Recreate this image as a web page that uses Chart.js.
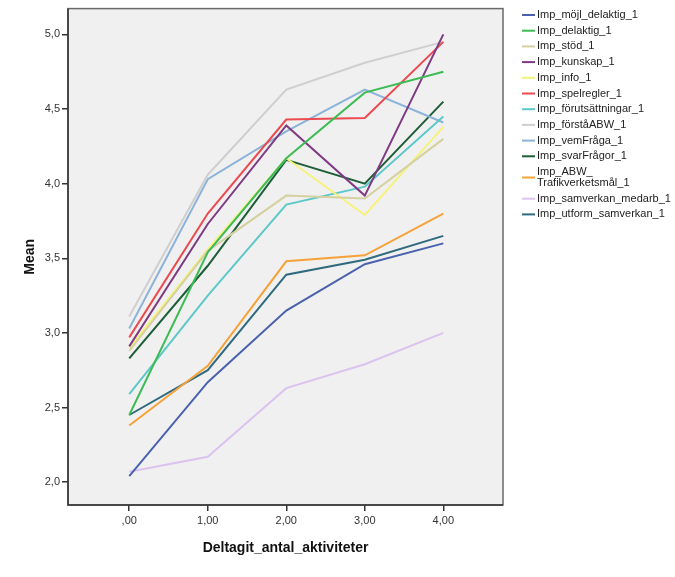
<!DOCTYPE html>
<html>
<head>
<meta charset="utf-8">
<script src="https://cdn.jsdelivr.net/npm/chart.js@4/dist/chart.umd.min.js"></script>
<style>
  body { margin: 0; background: #fff; }
  canvas { display: block; }
</style>
</head>
<body>
<canvas id="grafico" width="675" height="577"></canvas>
<script>
// x värden (Deltagit_antal_aktiviteter)
const xValues = [0, 1, 2, 3, 4];
const xTickLabels = [',00', '1,00', '2,00', '3,00', '4,00'];
const yTickValues = [2.0, 2.5, 3.0, 3.5, 4.0, 4.5, 5.0];
const yTickLabels = ['2,0', '2,5', '3,0', '3,5', '4,0', '4,5', '5,0'];

// serier (Mean)
const mojlDelaktig = [2.04, 2.67, 3.15, 3.46, 3.60];
const delaktig = [2.45, 3.54, 4.17, 4.61, 4.75];
const stod = [2.88, 3.55, 3.92, 3.90, 4.30];
const kunskap = [2.91, 3.73, 4.39, 3.92, 5.00];
const info = [2.90, 3.56, 4.17, 3.79, 4.38];
const spelregler = [2.97, 3.80, 4.43, 4.44, 4.95];
const forutsattningar = [2.59, 3.25, 3.86, 3.98, 4.45];
const forstaABW = [3.11, 4.06, 4.63, 4.81, 4.95];
const vemFraga = [3.03, 4.03, 4.35, 4.63, 4.41];
const svarFragor = [2.83, 3.45, 4.16, 4.00, 4.55];
const abwTrafikverket = [2.38, 2.78, 3.48, 3.52, 3.80];
const samverkanMedarb = [2.07, 2.17, 2.63, 2.79, 3.00];
const utformSamverkan = [2.45, 2.75, 3.39, 3.49, 3.65];

const seriesNames = [
    'Imp_möjl_delaktig_1', 'Imp_delaktig_1', 'Imp_stöd_1', 'Imp_kunskap_1', 'Imp_info_1',
    'Imp_spelregler_1', 'Imp_förutsättningar_1', 'Imp_förståABW_1', 'Imp_vemFråga_1',
    'Imp_svarFrågor_1', ['Imp_ABW_', 'Trafikverketsmål_1'], 'Imp_samverkan_medarb_1',
    'Imp_utform_samverkan_1'
];
const seriesData = [
    mojlDelaktig, delaktig, stod, kunskap, info, spelregler, forutsattningar,
    forstaABW, vemFraga, svarFragor, abwTrafikverket, samverkanMedarb, utformSamverkan
];
const seriesColors = [
    '#4a62ad', '#3dbb55', '#d5d0a0', '#7e3a82', '#f6f27a', '#ec4a50', '#5cc8c9',
    '#cfcfcf', '#8cb3d8', '#1d5e38', '#f6a23a', '#dcc3ef', '#2f6a7e'
];

// ritar bakgrund och ram runt plotytan
const ramPlugin = {
    id: 'ram',
    beforeDatasetsDraw(chart) {
        const a = chart.chartArea;
        const ctx = chart.ctx;
        ctx.save();
        ctx.fillStyle = '#f0f0f0';
        ctx.fillRect(a.left, a.top, a.right - a.left, a.bottom - a.top);
        ctx.restore();
    },
    afterDatasetsDraw(chart) {
        const a = chart.chartArea;
        const ctx = chart.ctx;
        ctx.save();
        ctx.strokeStyle = '#6a6a6a';
        ctx.lineWidth = 1.5;
        ctx.strokeRect(a.left, a.top, a.right - a.left, a.bottom - a.top);
        ctx.strokeStyle = '#333';
        ctx.beginPath();
        ctx.moveTo(a.left, a.top);
        ctx.lineTo(a.left, a.bottom);
        ctx.lineTo(a.right, a.bottom);
        ctx.stroke();
        ctx.restore();
    }
};

// egen legend till höger
const legendPlugin = {
    id: 'egenLegend',
    afterDraw(chart) {
        const ctx = chart.ctx;
        ctx.save();
        ctx.font = '11px "Liberation Sans", Arial, sans-serif';
        ctx.textBaseline = 'middle';
        let y = 15;
        chart.data.datasets.forEach((ds) => {
            const lines = Array.isArray(ds.label) ? ds.label : [ds.label];
            const mid = y + (lines.length - 1) * 11 / 2;
            ctx.strokeStyle = ds.borderColor;
            ctx.lineWidth = 2;
            ctx.beginPath();
            ctx.moveTo(522, mid);
            ctx.lineTo(535, mid);
            ctx.stroke();
            ctx.fillStyle = '#222';
            lines.forEach((t, i) => ctx.fillText(t, 537, y + i * 11));
            y += 15.7 + (lines.length - 1) * 11;
        });
        ctx.restore();
    }
};

const ctx = document.getElementById('grafico').getContext('2d');
const chart = new Chart(ctx, {
    type: 'line',
    data: {
        datasets: seriesData.map((d, i) => ({
            label: seriesNames[i],
            data: d.map((v, j) => ({ x: xValues[j], y: v })),
            borderColor: seriesColors[i],
            backgroundColor: seriesColors[i],
            borderWidth: 2,
            pointRadius: 0,
            tension: 0,
            fill: false
        }))
    },
    options: {
        responsive: false,
        animation: false,
        layout: { padding: { top: 6, right: 172, left: 0, bottom: 0 } },
        plugins: {
            legend: { display: false },
            tooltip: { enabled: false }
        },
        scales: {
            x: {
                type: 'linear',
                min: -0.78,
                max: 4.76,
                afterFit(scale) { scale.height = 72; },
                afterBuildTicks(scale) { scale.ticks = xValues.map(v => ({ value: v })); },
                border: { display: false },
                grid: { drawOnChartArea: false, drawTicks: true, tickLength: 6, color: '#333', lineWidth: 1.5 },
                ticks: {
                    padding: 3,
                    color: '#333',
                    font: { family: '"Liberation Sans", Arial, sans-serif', size: 11 },
                    maxRotation: 0,
                    callback: (v) => xTickLabels[xValues.indexOf(v)]
                },
                title: {
                    display: true,
                    text: 'Deltagit_antal_aktiviteter',
                    color: '#111',
                    font: { family: '"Liberation Sans", Arial, sans-serif', size: 14, weight: 'bold' },
                    padding: { top: 0, bottom: 20 }
                }
            },
            y: {
                min: 1.847,
                max: 5.173,
                afterFit(scale) { scale.width = 68; },
                afterBuildTicks(scale) { scale.ticks = yTickValues.map(v => ({ value: v })); },
                border: { display: false },
                grid: { drawOnChartArea: false, drawTicks: true, tickLength: 6, color: '#333', lineWidth: 1.5 },
                ticks: {
                    padding: 2,
                    color: '#333',
                    font: { family: '"Liberation Sans", Arial, sans-serif', size: 11 },
                    callback: (v) => yTickLabels[yTickValues.indexOf(v)]
                },
                title: {
                    display: true,
                    text: 'Mean',
                    color: '#111',
                    font: { family: '"Liberation Sans", Arial, sans-serif', size: 14, weight: 'bold' },
                    padding: { top: 22, bottom: 0 }
                }
            }
        }
    },
    plugins: [ramPlugin, legendPlugin]
});
</script>
</body>
</html>
